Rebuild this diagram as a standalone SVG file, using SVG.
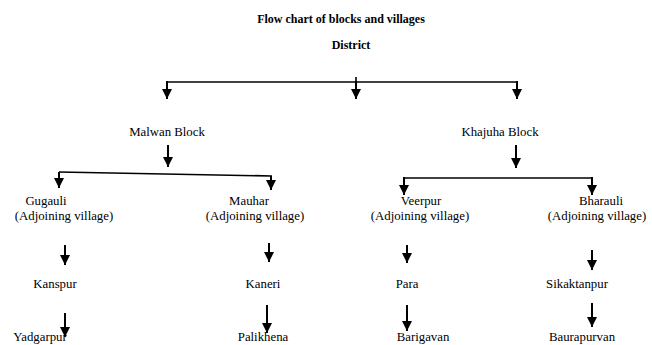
<svg xmlns="http://www.w3.org/2000/svg" width="652" height="345" viewBox="0 0 652 345">
<style>
text{font-family:"Liberation Serif","DejaVu Serif","Times New Roman",serif;font-size:12.8px;fill:#000;text-anchor:middle}
.b{font-weight:bold;font-size:12px}
.c line{stroke:#000;stroke-width:1.6;fill:none}
.c .a{stroke-width:2;marker-end:url(#ah)}
</style>
<defs>
<marker id="ah" markerUnits="userSpaceOnUse" markerWidth="10" markerHeight="10" refX="10" refY="5" orient="auto" viewBox="0 0 10 10">
<path d="M0,0 L10,5 L0,10 Z" fill="#000"/>
</marker>
</defs>
<rect width="652" height="345" fill="#fff"/>
<g id="title"><text class="b" x="341" y="23">Flow chart of blocks and villages</text></g>
<g id="district"><text class="b" x="351" y="49">District</text></g>
<g id="malwan"><text x="167" y="136">Malwan Block</text></g>
<g id="khajuha"><text x="500" y="136">Khajuha  Block</text></g>
<g id="gugauli"><text x="46" y="205">Gugauli</text><text x="64" y="220">(Adjoining village)</text></g>
<g id="mauhar"><text x="249" y="205">Mauhar</text><text x="255" y="220">(Adjoining village)</text></g>
<g id="veerpur"><text x="421" y="205">Veerpur</text><text x="420" y="220">(Adjoining village)</text></g>
<g id="bharauli"><text x="601" y="205">Bharauli</text><text x="597" y="220">(Adjoining village)</text></g>
<g id="kanspur"><text x="55" y="288">Kanspur</text></g>
<g id="kaneri"><text x="263" y="288">Kaneri</text></g>
<g id="para"><text x="407" y="288">Para</text></g>
<g id="sikaktanpur"><text x="577" y="288">Sikaktanpur</text></g>
<g id="yadgarpur"><text x="40" y="341">Yadgarpur</text></g>
<g id="palikhena"><text x="263" y="341">Palikhena</text></g>
<g id="barigavan"><text x="423" y="341">Barigavan</text></g>
<g id="baurapurvan"><text x="582" y="341">Baurapurvan</text></g>
<g id="connectors" class="c">
<line x1="167" y1="82" x2="517" y2="82"/>
<line x1="356" y1="77" x2="356" y2="82"/>
<line class="a" x1="167" y1="81" x2="167" y2="99"/>
<line class="a" x1="356" y1="81" x2="356" y2="99"/>
<line class="a" x1="517" y1="81" x2="517" y2="99"/>
<line class="a" x1="168" y1="145" x2="168" y2="167"/>
<line x1="59" y1="172" x2="272" y2="176"/>
<line class="a" x1="59" y1="172" x2="59" y2="188"/>
<line class="a" x1="271" y1="176" x2="271" y2="190"/>
<line class="a" x1="516" y1="145" x2="516" y2="168"/>
<line x1="404" y1="178" x2="592" y2="178"/>
<line class="a" x1="404" y1="177" x2="404" y2="195"/>
<line class="a" x1="592" y1="177" x2="592" y2="195"/>
<line class="a" x1="65" y1="245" x2="65" y2="265"/>
<line class="a" x1="65" y1="313" x2="65" y2="337"/>
<line class="a" x1="269" y1="243" x2="269" y2="262"/>
<line class="a" x1="267" y1="305" x2="267" y2="333"/>
<line class="a" x1="407" y1="245" x2="407" y2="263"/>
<line class="a" x1="407" y1="305" x2="407" y2="331"/>
<line class="a" x1="592" y1="250" x2="592" y2="270"/>
<line class="a" x1="592" y1="303" x2="592" y2="327"/>
</g>
</svg>
